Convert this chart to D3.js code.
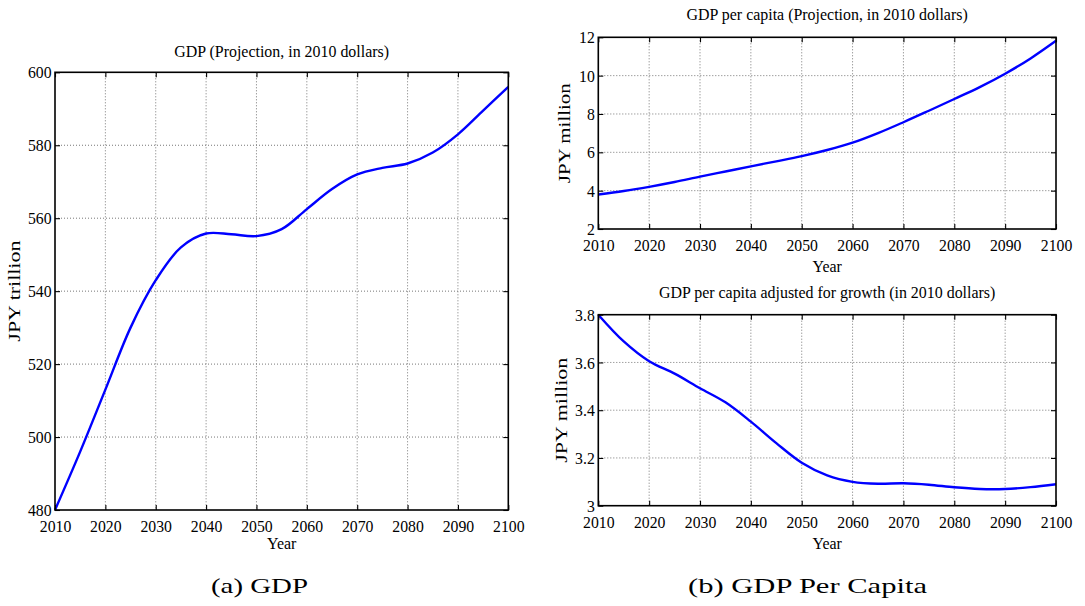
<!DOCTYPE html>
<html>
<head>
<meta charset="utf-8">
<script src="https://cdn.jsdelivr.net/npm/d3@7"></script>
<style>
  html, body { margin: 0; padding: 0; background: #fff; }
  svg { display: block; }
  text { font-family: "Liberation Serif", "Times New Roman", serif; fill: #000; }
</style>
</head>
<body>
<svg id="chart" width="1085" height="606"></svg>
<script>
// Projection years (5-year steps)
const years = [2010, 2015, 2020, 2025, 2030, 2035, 2040, 2045, 2050, 2055,
               2060, 2065, 2070, 2075, 2080, 2085, 2090, 2095, 2100];

// GDP, JPY trillion
const gdp = [480, 496, 513, 530, 543, 552, 555.8, 555.6, 555.1, 557,
             562.5, 568, 572, 573.8, 575, 578, 583, 589.5, 596];

// GDP per capita, JPY million
const gdpPerCapita = [3.8, 3.98, 4.2, 4.45, 4.73, 5.0, 5.27, 5.53, 5.8, 6.12,
                      6.5, 7.0, 7.57, 8.17, 8.78, 9.4, 10.1, 10.9, 11.82];

// GDP per capita adjusted for growth, JPY million
const gdpPerCapitaAdj = [3.8, 3.688, 3.605, 3.553, 3.492, 3.433, 3.352, 3.262, 3.18, 3.127,
                         3.1, 3.092, 3.094, 3.088, 3.077, 3.07, 3.07, 3.078, 3.09];

// Axis ticks
const yearTicks = [2010, 2020, 2030, 2040, 2050, 2060, 2070, 2080, 2090, 2100];
const gdpTicks = [480, 500, 520, 540, 560, 580, 600];
const perCapitaTicks = [2, 4, 6, 8, 10, 12];
const adjTicks = [3, 3.2, 3.4, 3.6, 3.8];

const svg = d3.select("#chart");

// Tall, narrow lettering: set a larger size, then squeeze back horizontally.
function condense(sel, size, squeeze) {
  sel.attr("font-size", size).each(function () {
    const w = this.getComputedTextLength();
    if (w > 0) {
      d3.select(this).attr("textLength", w * squeeze)
        .attr("lengthAdjust", "spacingAndGlyphs");
    }
  });
}

function panel(opts) {
  const { left, right, top, bottom, yDomain, yTicks, values, title, titleY,
          ylabel, ylabelX, ylabelLen, xlabelY } = opts;
  const x = d3.scaleLinear().domain([2010, 2100]).range([left, right]);
  const y = d3.scaleLinear().domain(yDomain).range([bottom, top]);
  const g = svg.append("g");

  // dotted grid
  g.append("g").selectAll("line").data(yearTicks.slice(1, -1)).join("line")
    .attr("x1", d => x(d)).attr("x2", d => x(d))
    .attr("y1", top).attr("y2", bottom)
    .attr("stroke", "#777").attr("stroke-width", 1)
    .attr("stroke-dasharray", "1,2");
  g.append("g").selectAll("line").data(yTicks.slice(1, -1)).join("line")
    .attr("x1", left).attr("x2", right)
    .attr("y1", d => y(d)).attr("y2", d => y(d))
    .attr("stroke", "#777").attr("stroke-width", 1)
    .attr("stroke-dasharray", "1,2");

  // series line
  const line = d3.line()
    .x((d, i) => x(years[i]))
    .y(d => y(d))
    .curve(d3.curveCatmullRom.alpha(0.5));
  g.append("path").datum(values)
    .attr("d", line)
    .attr("fill", "none")
    .attr("stroke", "#0000ff")
    .attr("stroke-width", 2.4)
    .attr("stroke-linejoin", "round");

  const fmt = d3.format("~g");
  const styleAxis = sel => {
    sel.select(".domain").remove();
    sel.selectAll(".tick line").attr("stroke", "#000").attr("stroke-width", 1.1);
    sel.selectAll("text").attr("font-family", null);
    condense(sel.selectAll("text"), 17.5, 0.9);
  };

  g.append("g").attr("transform", `translate(0,${bottom})`)
    .call(d3.axisBottom(x).tickValues(yearTicks).tickFormat(d3.format("d"))
      .tickSizeInner(-5).tickSizeOuter(0).tickPadding(9.5))
    .call(styleAxis);
  g.append("g").attr("transform", `translate(0,${top})`)
    .call(d3.axisTop(x).tickValues(yearTicks).tickFormat("")
      .tickSizeInner(-5).tickSizeOuter(0))
    .call(styleAxis);
  g.append("g").attr("transform", `translate(${left},0)`)
    .call(d3.axisLeft(y).tickValues(yTicks).tickFormat(fmt)
      .tickSizeInner(-5).tickSizeOuter(0).tickPadding(3.5))
    .call(styleAxis);
  g.append("g").attr("transform", `translate(${right},0)`)
    .call(d3.axisRight(y).tickValues(yTicks).tickFormat("")
      .tickSizeInner(-5).tickSizeOuter(0))
    .call(styleAxis);

  // axes box
  g.append("rect")
    .attr("x", left).attr("y", top)
    .attr("width", right - left).attr("height", bottom - top)
    .attr("fill", "none").attr("stroke", "#000").attr("stroke-width", 1.6);

  const cx = (left + right) / 2;
  g.append("text").attr("x", cx).attr("y", titleY)
    .attr("text-anchor", "middle").text(title)
    .call(condense, 17.5, 0.91);
  g.append("text").attr("x", cx).attr("y", xlabelY)
    .attr("text-anchor", "middle").text("Year")
    .call(condense, 17.5, 0.91);
  g.append("text")
    .attr("transform", `translate(${ylabelX},${(top + bottom) / 2}) rotate(-90)`)
    .attr("text-anchor", "middle").attr("font-size", 17)
    .attr("textLength", ylabelLen).attr("lengthAdjust", "spacingAndGlyphs")
    .text(ylabel);
}

panel({
  left: 55, right: 508.3, top: 72.3, bottom: 510,
  yDomain: [480, 600], yTicks: gdpTicks, values: gdp,
  title: "GDP (Projection, in 2010 dollars)", titleY: 57,
  ylabel: "JPY trillion", ylabelX: 19.5, ylabelLen: 101, xlabelY: 549
});

panel({
  left: 598.3, right: 1056, top: 37.3, bottom: 229,
  yDomain: [2, 12], yTicks: perCapitaTicks, values: gdpPerCapita,
  title: "GDP per capita (Projection, in 2010 dollars)", titleY: 20,
  ylabel: "JPY million", ylabelX: 570, ylabelLen: 100, xlabelY: 272
});

panel({
  left: 598.3, right: 1056, top: 314.7, bottom: 505.7,
  yDomain: [3, 3.8], yTicks: adjTicks, values: gdpPerCapitaAdj,
  title: "GDP per capita adjusted for growth (in 2010 dollars)", titleY: 298,
  ylabel: "JPY million", ylabelX: 567, ylabelLen: 105, xlabelY: 549
});

// sub-figure captions
svg.append("text").attr("x", 259.5).attr("y", 593)
  .attr("text-anchor", "middle").attr("font-size", 22)
  .attr("textLength", 97).attr("lengthAdjust", "spacingAndGlyphs")
  .text("(a)  GDP");
svg.append("text").attr("x", 807.5).attr("y", 593)
  .attr("text-anchor", "middle").attr("font-size", 22)
  .attr("textLength", 239).attr("lengthAdjust", "spacingAndGlyphs")
  .text("(b)  GDP Per Capita");
</script>
</body>
</html>
